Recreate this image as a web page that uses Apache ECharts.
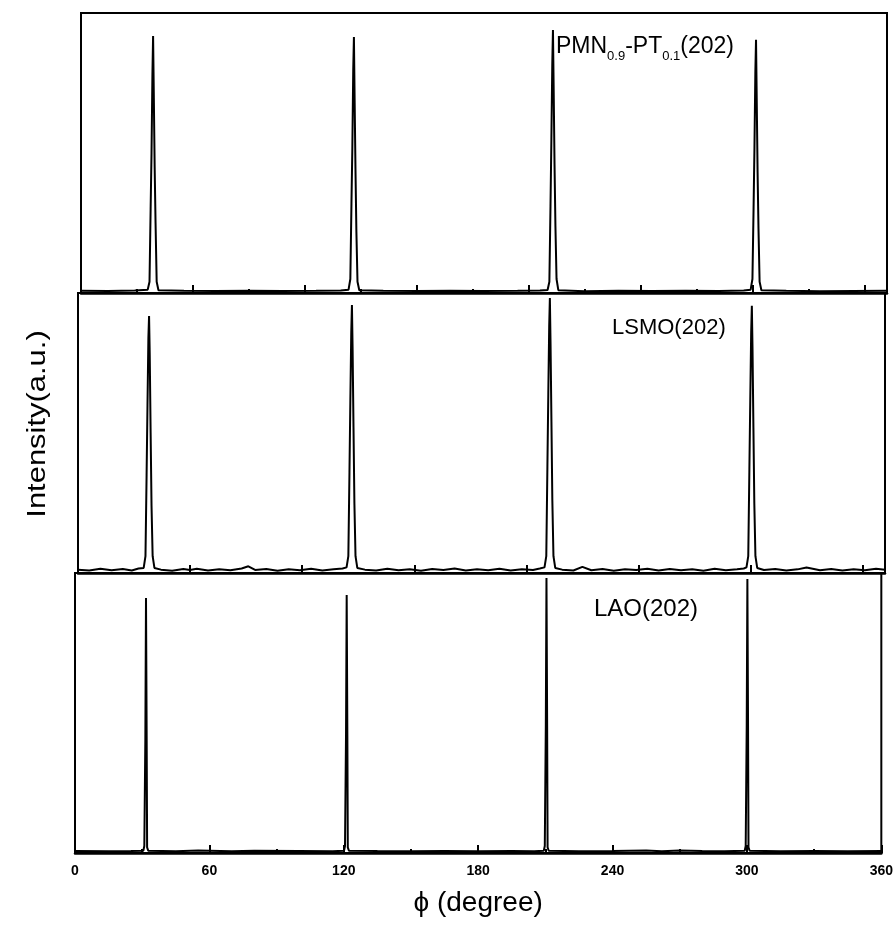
<!DOCTYPE html>
<html>
<head>
<meta charset="utf-8">
<script src="https://cdn.jsdelivr.net/npm/echarts@6/dist/echarts.min.js"></script>
<style>
  html, body { margin: 0; padding: 0; background: #fff; }
  #chart { width: 896px; height: 925px; }
</style>
</head>
<body>
<div id="chart"></div>
<script>
// phi (degree), intensity (% of panel height)
const pmnScan = [
  [0, 0.8], [12, 0.7], [24, 0.9],
  [29.8, 1.2], [30.6, 4], [31.1, 30], [31.5, 50], [31.9, 78], [32.2, 91.8], [32.5, 72], [32.9, 45], [33.3, 25], [33.8, 4], [34.6, 1.0],
  [46, 0.8], [60, 0.7], [75, 0.8], [90, 0.7], [105, 0.8], [116, 0.9],
  [119.5, 1.2], [120.3, 5], [120.8, 32], [121.2, 52], [121.6, 80], [121.9, 91.4], [122.2, 70], [122.6, 44], [123.0, 22], [123.5, 4], [124.3, 1.0],
  [135, 0.8], [150, 0.7], [165, 0.8], [180, 0.7], [195, 0.8], [205, 0.9],
  [208.4, 1.1], [209.2, 4], [209.7, 31], [210.1, 55], [210.5, 82], [210.8, 93.9], [211.1, 74], [211.5, 46], [211.9, 24], [212.4, 5], [213.2, 1.0],
  [225, 0.6], [240, 0.8], [255, 0.7], [270, 0.8], [285, 0.7], [296, 0.9],
  [299.1, 1.2], [299.9, 5], [300.4, 30], [300.8, 52], [301.2, 79], [301.5, 90.4], [301.8, 70], [302.2, 43], [302.6, 23], [303.1, 4], [303.9, 1.0],
  [315, 0.8], [330, 0.6], [345, 0.7], [360, 0.8]
];

const lsmoScan = [
  [0, 1.2], [5, 0.9], [10, 1.5], [15, 1.0], [20, 1.4], [24, 0.9], [27, 1.6],
  [29.3, 1.8], [30.1, 6], [30.6, 35], [31.0, 60], [31.4, 84], [31.7, 91.8], [32.0, 78], [32.4, 50], [32.8, 24], [33.3, 6], [34.1, 1.8],
  [37, 1.2], [42, 0.8], [47, 1.4], [50, 1.1], [53, 1.5], [58, 0.9], [63, 1.3], [68, 1.0], [73, 1.6], [76, 2.4], [79, 1.1],
  [84, 1.4], [89, 0.8], [94, 1.3], [99, 1.0], [104, 1.5], [109, 0.9], [114, 1.3], [118, 1.6],
  [119.8, 2.0], [120.6, 6], [121.1, 36], [121.5, 62], [121.9, 86], [122.2, 95.7], [122.5, 80], [122.9, 52], [123.3, 25], [123.8, 6], [124.6, 1.8],
  [128, 1.2], [133, 0.9], [138, 1.5], [143, 1.0], [148, 1.3], [153, 0.8], [158, 1.4], [163, 1.1], [168, 1.6], [173, 0.9],
  [178, 1.3], [183, 1.0], [188, 1.5], [193, 0.9], [198, 1.3], [203, 1.1], [206, 1.6],
  [208.1, 2.0], [208.9, 6], [209.4, 38], [209.8, 64], [210.2, 88], [210.5, 98.2], [210.8, 82], [211.2, 54], [211.6, 26], [212.1, 6], [212.9, 1.8],
  [216, 1.2], [221, 0.9], [225, 2.2], [229, 1.0], [234, 1.4], [239, 0.8], [244, 1.3], [249, 1.1], [254, 1.5], [259, 0.9],
  [264, 1.4], [269, 1.0], [274, 1.3], [279, 0.8], [284, 1.5], [289, 1.0], [294, 1.3], [297, 1.6],
  [298.2, 2.0], [299.0, 6], [299.5, 37], [299.9, 62], [300.3, 86], [300.6, 95.4], [300.9, 80], [301.3, 52], [301.7, 25], [302.2, 6], [303.0, 1.8],
  [306, 1.1], [311, 1.4], [316, 0.9], [321, 1.3], [325, 2.0], [331, 1.0], [336, 1.4], [341, 0.9], [346, 1.3], [351, 1.0], [356, 1.5], [360, 1.2]
];

const laoScan = [
  [0, 0.7], [15, 0.6], [25, 0.7],
  [30.5, 0.8], [30.95, 2.5], [31.25, 3], [31.4, 40], [31.7, 91.1], [32.0, 40], [32.2, 2], [32.7, 0.8],
  [45, 0.6], [55, 0.9], [70, 0.6], [80, 0.8], [100, 0.7], [115, 0.6],
  [120.1, 0.8], [120.55, 2.5], [120.85, 3], [121.0, 42], [121.3, 92.1], [121.6, 42], [121.8, 2], [122.3, 0.8],
  [135, 0.7], [150, 0.6], [165, 0.7], [180, 0.6], [195, 0.7], [205, 0.6],
  [209.3, 0.8], [209.75, 2.5], [210.05, 3], [210.2, 45], [210.5, 98.2], [210.8, 45], [211.0, 2], [211.5, 0.8],
  [225, 0.6], [240, 0.7], [255, 0.9], [262, 0.6], [270, 0.9], [280, 0.7], [290, 0.6],
  [299.0, 0.8], [299.45, 2.5], [299.75, 3], [299.9, 45], [300.2, 97.9], [300.5, 45], [300.7, 2], [301.2, 0.8],
  [315, 0.6], [330, 0.7], [345, 0.6], [360, 0.7]
];

const phiTicks = { min: 0, max: 360, bottomStep: 60 };

const chart = echarts.init(document.getElementById('chart'), null, { renderer: 'canvas' });

const font = 'Liberation Sans, Arial, sans-serif';
const panels = [
  { top: 13, left: 81, right: 9, step: 50, minor: true, data: pmnScan },
  { top: 293, left: 78, right: 11, step: 50, minor: false, data: lsmoScan },
  { top: 573, left: 75, right: 14, step: phiTicks.bottomStep, minor: true, data: laoScan }
];

const option = {
  animation: false,
  backgroundColor: '#fff',
  grid: panels.map((p) => ({
    left: p.left,
    right: p.right,
    top: p.top,
    height: 280,
    show: true,
    borderColor: '#000',
    borderWidth: 2,
    backgroundColor: 'transparent'
  })),
  xAxis: panels.map((p, i) => ({
    type: 'value',
    gridIndex: i,
    min: phiTicks.min,
    max: phiTicks.max,
    interval: p.step,
    axisLine: { show: true, lineStyle: { color: '#000', width: 2.5 } },
    axisTick: { show: true, inside: true, length: 8, lineStyle: { color: '#000', width: 2 } },
    minorTick: { show: p.minor, splitNumber: 2, length: 4, lineStyle: { color: '#000', width: 2 } },
    splitLine: { show: false },
    axisLabel: {
      show: i === 2,
      color: '#000',
      fontSize: 14,
      fontWeight: 'bold',
      fontFamily: font,
      margin: 11
    },
    name: i === 2 ? 'ϕ (degree)' : '',
    nameLocation: 'middle',
    nameGap: 36,
    nameTextStyle: { color: '#000', fontSize: 28, fontFamily: font }
  })),
  yAxis: panels.map((p, i) => ({
    type: 'value',
    gridIndex: i,
    min: 0,
    max: 100,
    show: false
  })),
  series: panels.map((p, i) => ({
    type: 'line',
    xAxisIndex: i,
    yAxisIndex: i,
    data: p.data,
    showSymbol: false,
    lineStyle: { color: '#000', width: 2 }
  })),
  graphic: [
    {
      type: 'text',
      x: 38,
      y: 424,
      rotation: Math.PI / 2,
      scaleX: 1.19,
      style: {
        text: 'Intensity(a.u.)',
        font: '26px ' + font,
        fill: '#000',
        textAlign: 'center',
        textVerticalAlign: 'middle'
      }
    },
    {
      type: 'text',
      x: 556,
      y: 35,
      style: {
        text: '{a|PMN}{s|0.9}{a|-PT}{s|0.1}{a|(202)}',
        fill: '#000',
        textVerticalAlign: 'top',
        rich: {
          a: { fontSize: 23, fontFamily: font, lineHeight: 28, verticalAlign: 'top' },
          s: { fontSize: 13, fontFamily: font, lineHeight: 13, padding: [15, 0, 0, 0], verticalAlign: 'top' }
        }
      }
    },
    {
      type: 'text',
      x: 612,
      y: 317,
      style: { text: 'LSMO(202)', font: '22px ' + font, fill: '#000', textVerticalAlign: 'top' }
    },
    {
      type: 'text',
      x: 594,
      y: 597,
      style: { text: 'LAO(202)', font: '24px ' + font, fill: '#000', textVerticalAlign: 'top' }
    }
  ]
};

chart.setOption(option);
</script>
</body>
</html>
